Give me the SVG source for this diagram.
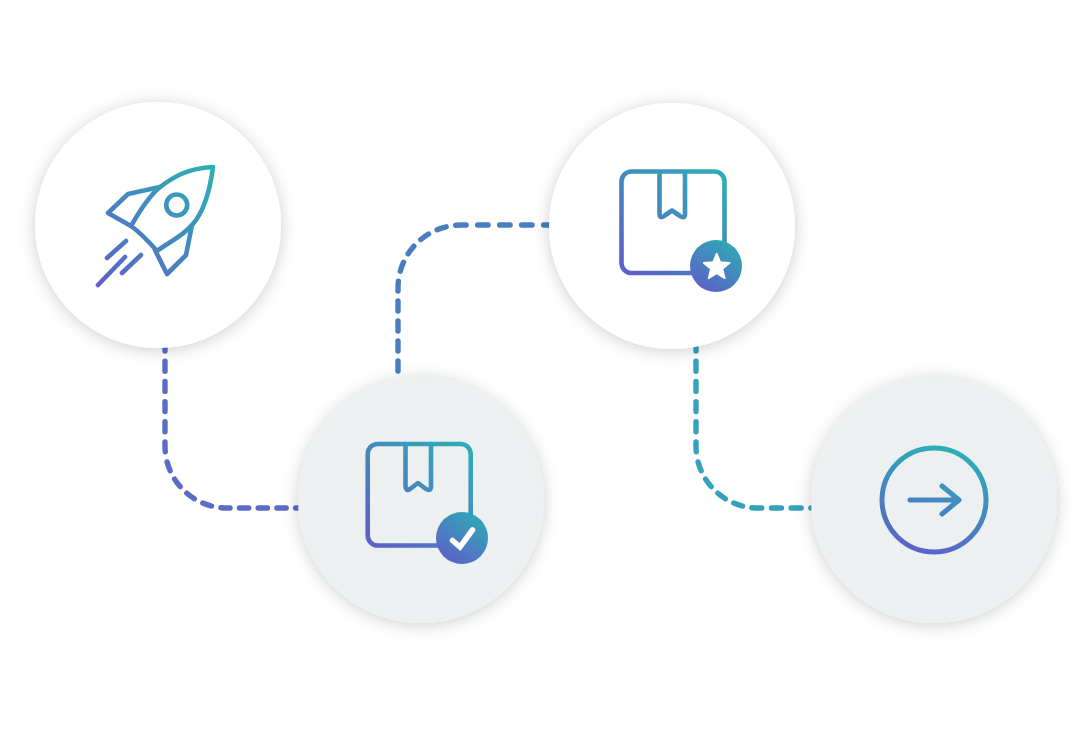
<svg xmlns="http://www.w3.org/2000/svg" width="1092" height="748" viewBox="0 0 1092 748">
<style>
.conn{fill:none;stroke-width:5.400;stroke-linecap:round}
.ln{fill:none;stroke-width:4.600;stroke-linecap:round;stroke-linejoin:round}
.white{fill:#fff;filter:url(#sh)}
.grey{fill:#ecf0f1;filter:url(#sh)}
</style>
<defs>
<filter id="sh" x="-25%" y="-25%" width="150%" height="150%"><feDropShadow dx="0" dy="2" stdDeviation="8" flood-color="#000" flood-opacity="0.2"/></filter>
<linearGradient id="g1" gradientUnits="userSpaceOnUse" x1="212" y1="168" x2="108" y2="285"><stop offset="0" stop-color="#2cb0b5"/><stop offset="1" stop-color="#5c62c8"/></linearGradient>
<linearGradient id="g2" gradientUnits="userSpaceOnUse" x1="725" y1="170" x2="640" y2="275"><stop offset="0" stop-color="#2cb0b5"/><stop offset="1" stop-color="#5c62c8"/></linearGradient>
<linearGradient id="g3" gradientUnits="userSpaceOnUse" x1="471" y1="443" x2="386" y2="548"><stop offset="0" stop-color="#2cb0b5"/><stop offset="1" stop-color="#5c62c8"/></linearGradient>
<linearGradient id="g4" gradientUnits="userSpaceOnUse" x1="952" y1="447" x2="918" y2="553"><stop offset="0" stop-color="#2cb0b5"/><stop offset="1" stop-color="#5c62c8"/></linearGradient>
<linearGradient id="b1" gradientUnits="userSpaceOnUse" x1="733" y1="244" x2="703" y2="290"><stop offset="0" stop-color="#2fa8b6"/><stop offset="1" stop-color="#5c62c8"/></linearGradient>
<linearGradient id="b2" gradientUnits="userSpaceOnUse" x1="479" y1="516" x2="449" y2="562"><stop offset="0" stop-color="#2fa8b6"/><stop offset="1" stop-color="#5c62c8"/></linearGradient>
</defs>
<rect width="1092" height="748" fill="#fff"/>
<g id="connectors">
<path class="conn" stroke="#5b6cc7" stroke-dasharray="10 10.2 10 10.2 10 10.2 10 10.2 10 10.2 10 10.2 9.300 9.400 9.300 9.400 9.300 9.400 9.300 9.400 9.300 9.400 9.300 9.400 9.300 9.400 9.300 9.400 9.300 9.400" d="M165 341V446A62 62 0 0 0 227 508H300"/>
<path class="conn" stroke="#4a7cc1" stroke-dasharray="10 10 10 10 10 10 10 10 10 10 9.500 9.600 9.500 9.600 9.500 9.600 9.500 9.600 10.500 11.500 10.500 11.500 10.500 11.500 10.500 11.500 10.500 11.500" d="M398 371V288A63 63 0 0 1 461 225H552"/>
<path class="conn" stroke="#35a1bd" stroke-dasharray="10 10.2 10 10.2 10 10.2 10 10.2 10 10.2 10 10.2 9.300 9.400 9.300 9.400 9.300 9.400 9.300 9.400 10 9.700 10 9.700 10 9.700 10 9.700" d="M696 341V446A62 62 0 0 0 758 508H812"/>
</g>
<g id="node-rocket">
<circle class="white" cx="158" cy="225" r="123"/>
<g class="ln" stroke="url(#g1)">
<path d="M213 167C210 190 204 212 192 225C182 237 170 241 157 251C150 243 142 234 131 226C139 212 148 197 160 187C172 178 187 168 213 167Z"/>
<path d="M160 187L128 194L108 213L131 226"/>
<path d="M192 225L186 255L167 274L155 250"/>
<circle cx="176.700" cy="205" r="10.500"/>
<path d="M107 258L126 241M122 273L141 255M98 285L125 257"/>
</g>
</g>
<g id="node-box-star">
<circle class="white" cx="672" cy="226" r="123"/>
<g class="ln" stroke="url(#g2)">
<rect x="621.500" y="171.500" width="103" height="101.500" rx="10"/>
<path d="M659.500 172V214Q660 219 664 216L672 210.500L680 216Q685 219 685 214V172"/>
</g>
<circle cx="716" cy="266" r="26" fill="url(#b1)"/>
<polygon points="716.700,253.500 720.300,262.100 729.800,262.800 722.500,269 724.800,278.300 716.700,273.200 708.600,278.300 710.900,269 703.600,262.800 713.100,262.100" fill="#fff" stroke="#fff" stroke-width="1.600" stroke-linejoin="round"/>
</g>
<g id="node-box-check">
<circle class="grey" cx="421" cy="500" r="123"/>
<g class="ln" stroke="url(#g3)">
<rect x="367.700" y="444" width="103" height="101.500" rx="10"/>
<path d="M405.500 444V486.500Q406 491.500 410 489L418 483L426 489Q431 491.500 431 486.500V444"/>
</g>
<circle cx="462" cy="538" r="26" fill="url(#b2)"/>
<path d="M452.500 540.500L460 547L472.500 530" fill="none" stroke="#fff" stroke-width="5.500" stroke-linecap="round" stroke-linejoin="miter"/>
</g>
<g id="node-arrow">
<circle class="grey" cx="934" cy="500" r="123"/>
<g class="ln" stroke="url(#g4)">
<circle cx="934" cy="500" r="52" stroke-width="5"/>
<path d="M910 500H959M942 486L959 500L942 514" stroke-width="5"/>
</g>
</g>
</svg>
